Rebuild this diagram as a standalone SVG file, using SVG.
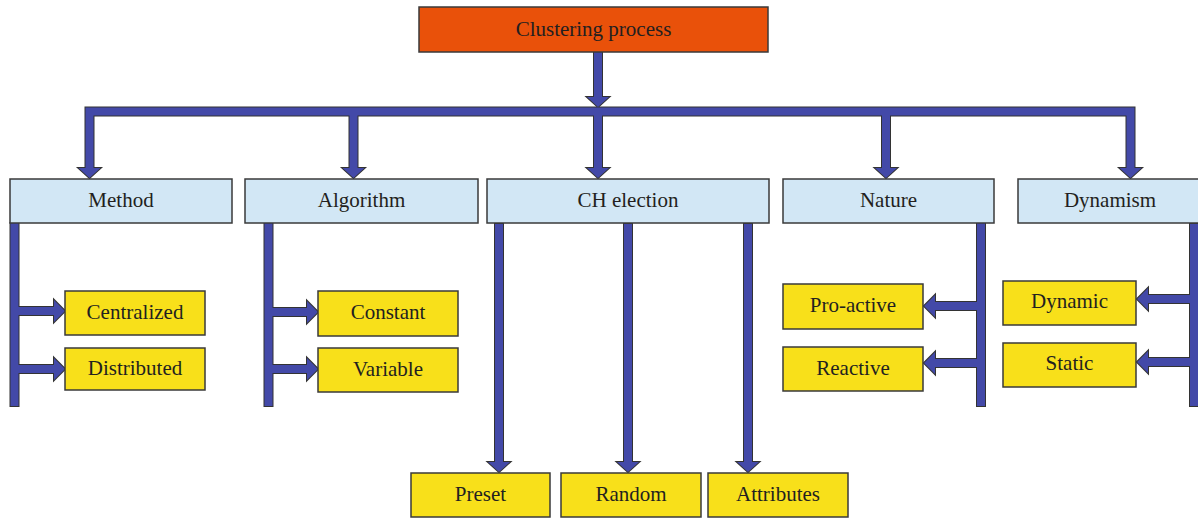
<svg xmlns="http://www.w3.org/2000/svg" xmlns:xlink="http://www.w3.org/1999/xlink" width="1198" height="519" viewBox="0 0 1198 519">
<style>
.box{stroke:#3a3a3a;stroke-width:1.5}
.top{fill:#E9510A}
.cat{fill:#D2E7F5}
.leaf{fill:#F8E01A}
.lbl{font-family:"Liberation Serif","Times New Roman",serif;font-size:21px;fill:#231F20;text-anchor:middle}
.co{fill:#4349A8;stroke:#333333;stroke-width:2;stroke-linejoin:miter}
.cf{fill:#4349A8;stroke:none}
</style>
<defs>
<path id="trunk" d="M594 52 V97 H587 L598 107 L609 97 H602 V52 Z"/>
<path id="bar" d="M85.5 107.5 H1134.5 V168 H1141.5 L1130.5 178 L1119.5 168 H1126.5 V115.5 H890 V168 H897 L886 178 L875 168 H882 V115.5 H602 V168 H609 L598 178 L587 168 H594 V115.5 H357.5 V168 H364.5 L353.5 178 L342.5 168 H349.5 V115.5 H93.5 V168 H100.5 L89.5 178 L78.5 168 H85.5 Z"/>
<path id="cMethod" d="M10.5 223 H18.5 V307 H54 V300 L65 311 L54 322 V315 H18.5 V365 H54 V358 L65 369 L54 380 V373 H18.5 V406 H10.5 Z"/>
<path id="cAlgo" d="M264.5 223 H272.5 V308 H307 V301 L318 312 L307 323 V316 H272.5 V365 H307 V358 L318 369 L307 380 V373 H272.5 V406 H264.5 Z"/>
<path id="cCH" d="M495 224 V462 H488 L499 472 L510 462 H503 V224 Z
 M624 224 V462 H617 L628 472 L639 462 H632 V224 Z
 M744 224 V462 H737 L748 472 L759 462 H752 V224 Z"/>
<path id="cNature" d="M985 223 V406 H977 V367 H935 V374 L924 363 L935 352 V359 H977 V310 H935 V317 L924 306 L935 295 V302 H977 V223 Z"/>
<path id="cDyn" d="M1199 224 V406 H1190 V366 H1148 V373 L1137 362 L1148 351 V358 H1190 V303 H1148 V310 L1137 299 L1148 288 V295 H1190 V224 Z"/>
</defs>
<g id="connectors">
<g class="co">
<use xlink:href="#trunk"/><use xlink:href="#bar"/><use xlink:href="#cMethod"/><use xlink:href="#cAlgo"/><use xlink:href="#cCH"/><use xlink:href="#cNature"/><use xlink:href="#cDyn"/>
</g>
<g class="cf">
<use xlink:href="#trunk"/><use xlink:href="#bar"/><use xlink:href="#cMethod"/><use xlink:href="#cAlgo"/><use xlink:href="#cCH"/><use xlink:href="#cNature"/><use xlink:href="#cDyn"/>
</g>
</g>
<g id="n-clustering"><rect class="box top" x="419" y="7" width="349" height="45"/><text class="lbl" x="593.5" y="36">Clustering process</text></g>
<g id="n-method"><rect class="box cat" x="10" y="179" width="222" height="44"/><text class="lbl" x="121" y="207">Method</text></g>
<g id="n-algorithm"><rect class="box cat" x="245" y="179" width="233" height="44"/><text class="lbl" x="361.5" y="207">Algorithm</text></g>
<g id="n-ch"><rect class="box cat" x="487" y="179" width="282" height="44"/><text class="lbl" x="628" y="207">CH election</text></g>
<g id="n-nature"><rect class="box cat" x="783" y="179" width="211" height="44"/><text class="lbl" x="888.5" y="207">Nature</text></g>
<g id="n-dynamism"><rect class="box cat" x="1018" y="179" width="184" height="44"/><text class="lbl" x="1110" y="207">Dynamism</text></g>
<g id="n-centralized"><rect class="box leaf" x="65" y="291" width="140" height="44"/><text class="lbl" x="135" y="319">Centralized</text></g>
<g id="n-distributed"><rect class="box leaf" x="65" y="348" width="140" height="42"/><text class="lbl" x="135" y="375">Distributed</text></g>
<g id="n-constant"><rect class="box leaf" x="318" y="291" width="140" height="45"/><text class="lbl" x="388" y="319">Constant</text></g>
<g id="n-variable"><rect class="box leaf" x="318" y="348" width="140" height="44"/><text class="lbl" x="388" y="376">Variable</text></g>
<g id="n-proactive"><rect class="box leaf" x="783" y="284" width="140" height="45"/><text class="lbl" x="853" y="312">Pro-active</text></g>
<g id="n-reactive"><rect class="box leaf" x="783" y="347" width="140" height="44"/><text class="lbl" x="853" y="375">Reactive</text></g>
<g id="n-dynamic"><rect class="box leaf" x="1003" y="281" width="133" height="44"/><text class="lbl" x="1069.5" y="308">Dynamic</text></g>
<g id="n-static"><rect class="box leaf" x="1003" y="343" width="133" height="44"/><text class="lbl" x="1069.5" y="370">Static</text></g>
<g id="n-preset"><rect class="box leaf" x="411" y="473" width="139" height="44"/><text class="lbl" x="480.5" y="501">Preset</text></g>
<g id="n-random"><rect class="box leaf" x="561" y="473" width="140" height="44"/><text class="lbl" x="631" y="501">Random</text></g>
<g id="n-attributes"><rect class="box leaf" x="708" y="473" width="140" height="44"/><text class="lbl" x="778" y="501">Attributes</text></g>
</svg>
